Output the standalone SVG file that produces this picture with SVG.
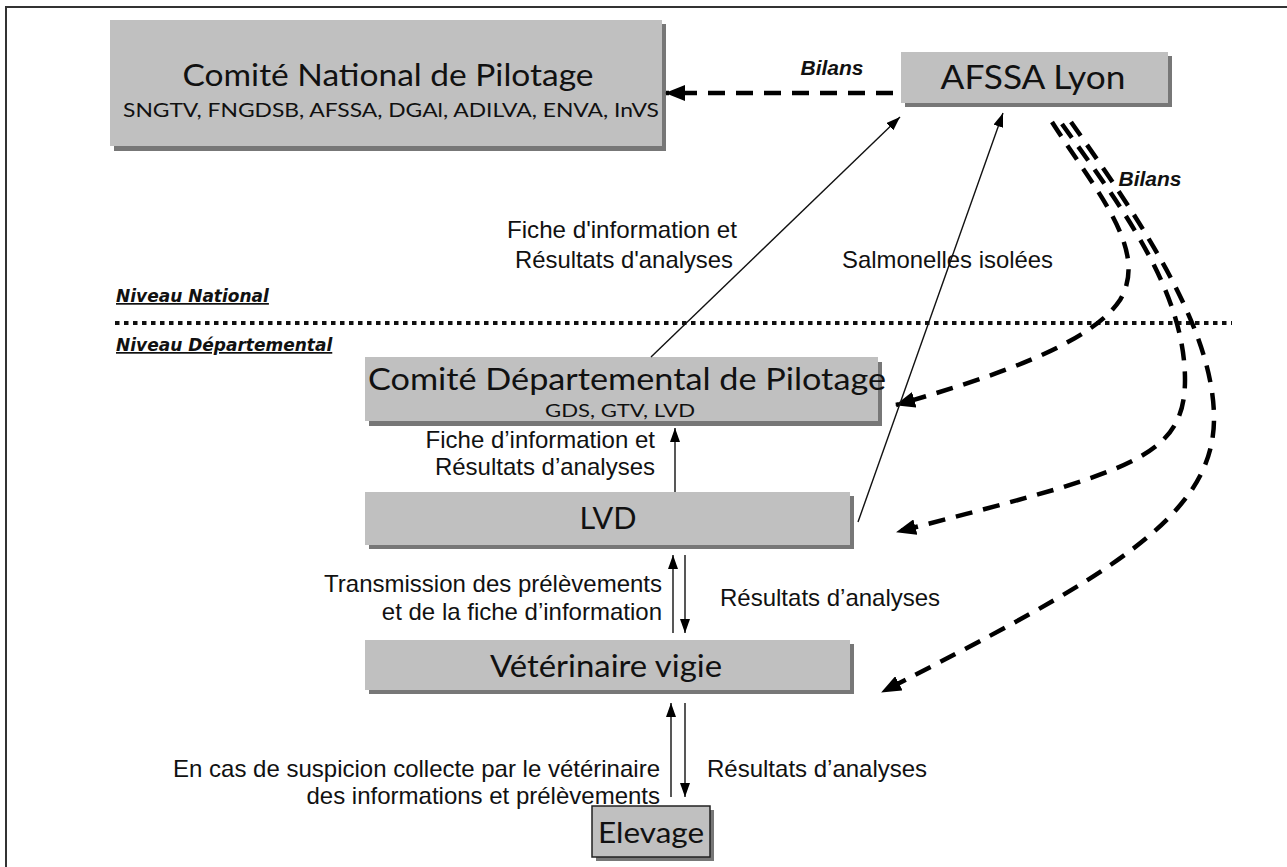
<svg xmlns="http://www.w3.org/2000/svg" width="1287" height="867" viewBox="0 0 1287 867">
<defs>
<marker id="ah" viewBox="0 0 20 16" refX="19" refY="8" markerWidth="20" markerHeight="16" markerUnits="userSpaceOnUse" orient="auto"><path d="M0,0 L20,8 L0,16 z" fill="#000"/></marker>
<marker id="as" viewBox="0 0 14 10" refX="14" refY="5" markerWidth="14" markerHeight="10" markerUnits="userSpaceOnUse" orient="auto"><path d="M0,0 L14,5 L0,10 z" fill="#000"/></marker>
<style>
.box{fill:#c0c0c0}
.shd{fill:#777}
.nt{font-family:Lato,"Open Sans",sans-serif;fill:#111;text-anchor:middle}
.lb{font-family:"Liberation Sans",Arial,sans-serif;font-size:24px;fill:#111}
.end{text-anchor:end}
.bil{font-family:"Liberation Sans",Arial,sans-serif;font-size:21px;font-weight:bold;font-style:italic;text-anchor:middle;fill:#111}
.niv{font-family:"DejaVu Sans",sans-serif;font-weight:bold;font-style:italic;font-size:17px;text-decoration:underline;fill:#111}
.dash{fill:none;stroke:#000;stroke-width:4.5;stroke-dasharray:17 11;marker-end:url(#ah)}
.thin{fill:none;stroke:#111;stroke-width:1.4;marker-end:url(#as)}
</style>
</defs>
<rect x="0" y="0" width="1287" height="867" fill="#fff"/>
<rect x="6" y="7" width="1300" height="880" fill="#fff" stroke="#333" stroke-width="2"/>

<g id="comite-national">
<rect class="shd" x="114" y="24" width="552" height="127"/>
<rect class="box" x="110" y="20" width="552" height="126"/>
<text class="nt" x="388" y="86" font-size="31" textLength="411" lengthAdjust="spacingAndGlyphs">Comité National de Pilotage</text>
<text class="nt" x="391" y="117" font-size="19" textLength="536" lengthAdjust="spacingAndGlyphs">SNGTV, FNGDSB, AFSSA, DGAl, ADILVA, ENVA, InVS</text>
</g>

<g id="afssa-lyon">
<rect class="shd" x="905" y="56" width="267" height="51"/>
<rect class="box" x="901" y="52" width="267" height="51"/>
<text class="nt" x="1033" y="89" font-size="32" textLength="185" lengthAdjust="spacingAndGlyphs">AFSSA Lyon</text>
</g>

<g id="comite-departemental">
<rect class="shd" x="369" y="362" width="513" height="64"/>
<rect class="box" x="365" y="357" width="513" height="64"/>
<text class="nt" x="627" y="390" font-size="31" textLength="518" lengthAdjust="spacingAndGlyphs">Comité Départemental de Pilotage</text>
<text class="nt" x="620" y="417" font-size="18" textLength="150" lengthAdjust="spacingAndGlyphs">GDS, GTV, LVD</text>
</g>

<g id="lvd">
<rect class="shd" x="369" y="496" width="485" height="53"/>
<rect class="box" x="365" y="492" width="485" height="53"/>
<text class="nt" x="608" y="529" font-size="30" textLength="57" lengthAdjust="spacingAndGlyphs">LVD</text>
</g>

<g id="veterinaire">
<rect class="shd" x="369" y="644" width="485" height="50"/>
<rect class="box" x="365" y="640" width="485" height="50"/>
<text class="nt" x="606" y="677" font-size="30" textLength="232" lengthAdjust="spacingAndGlyphs">Vétérinaire vigie</text>
</g>

<g id="elevage">
<rect class="shd" x="596" y="810" width="118" height="51"/>
<rect class="box" x="592" y="806" width="118" height="51" stroke="#222" stroke-width="1.5"/>
<text class="nt" x="651" y="843" font-size="29" textLength="106" lengthAdjust="spacingAndGlyphs">Elevage</text>
</g>

<g id="niveaux">
<path d="M115,323 L1232,323" stroke="#111" stroke-width="4" stroke-dasharray="4.5 4.5" fill="none"/>
<text class="niv" x="116" y="302">Niveau National</text>
<text class="niv" x="116" y="351">Niveau Départemental</text>
</g>

<g id="connectors">
<path class="dash" d="M893,93 L666,93"/>
<path class="dash" d="M1052,122 C1095,190 1150,250 1120,300 C1090,345 990,378 896,405"/>
<path class="dash" d="M1062,124 C1120,205 1185,290 1185,380 C1185,440 1150,460 1060,488 C1010,503 950,518 897,532"/>
<path class="dash" d="M1071,122 C1140,220 1215,330 1214,420 C1213,520 1100,580 882,692"/>
<path class="thin" d="M651,357 L900,117"/>
<path class="thin" d="M858,522 L1003,113"/>
<path class="thin" d="M675,492 L675,428"/>
<path class="thin" d="M673,633 L673,555"/>
<path class="thin" d="M685,555 L685,633"/>
<path class="thin" d="M671,797 L671,703"/>
<path class="thin" d="M685,703 L685,797"/>
</g>

<g id="labels">
<text class="bil" x="832" y="75">Bilans</text>
<text class="bil" x="1150" y="186">Bilans</text>
<text class="lb" x="507" y="238" textLength="230" lengthAdjust="spacingAndGlyphs">Fiche d'information et</text>
<text class="lb" x="515" y="268" textLength="218" lengthAdjust="spacingAndGlyphs">Résultats d'analyses</text>
<text class="lb" x="842" y="268" textLength="211" lengthAdjust="spacingAndGlyphs">Salmonelles isolées</text>
<text class="lb end" x="655" y="448">Fiche d’information et</text>
<text class="lb end" x="655" y="475">Résultats d’analyses</text>
<text class="lb end" x="662" y="592">Transmission des prélèvements</text>
<text class="lb end" x="662" y="620">et de la fiche d’information</text>
<text class="lb" x="720" y="606">Résultats d’analyses</text>
<text class="lb end" x="660" y="777">En cas de suspicion collecte par le vétérinaire</text>
<text class="lb end" x="660" y="804">des informations et prélèvements</text>
<text class="lb" x="707" y="777">Résultats d’analyses</text>
</g>
</svg>
